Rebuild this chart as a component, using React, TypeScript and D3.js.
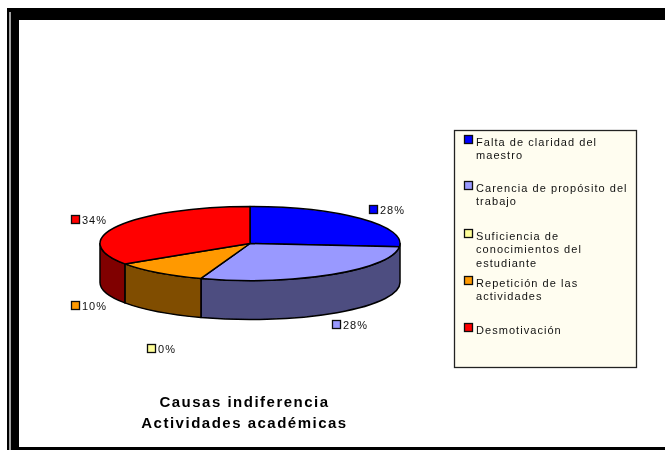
import React from "react";
import * as d3 from "d3";

const categories = ["Falta de claridad del maestro", "Carencia de propósito del trabajo", "Suficiencia de conocimientos del estudiante", "Repetición de las actividades", "Desmotivación"];
const percentLabels = [28, 28, 0, 10, 34];
// Slice sizes as drawn in the picture's tilted projection
const sliceShares = [26.4, 28.9, 0, 10.4, 34.3];
const topColors = ["#0000ff", "#9999ff", "#ffff99", "#ff9900", "#ff0000"];
const sideColors = ["#000080", "#4d4d80", "#808050", "#804d00", "#800000"];
const legendLines = [["Falta de claridad del", "maestro"], ["Carencia de propósito del", "trabajo"], ["Suficiencia de", "conocimientos del", "estudiante"], ["Repetición de las", "actividades"], ["Desmotivación"]];
const legendY = [142, 188, 236, 283, 330];
const labelPos = [[369, 210], [332, 325], [147, 349], [71, 306], [71, 220]];
const titleLines = ["Causas indiferencia", "Actividades académicas"];

const W = 665, H = 450;
const cx = 250, cy = 243.5, rx = 150, ry = 37, depth = 39;
const px = (a: number) => cx + rx * Math.sin(a);
const py = (a: number) => cy - ry * Math.cos(a);
const font = "'Liberation Sans', Arial, sans-serif";

export default function App() {
  const arcs = d3.pie<number>().sort(null)(sliceShares);
  const tops = arcs.filter(a => a.endAngle > a.startAngle).map(a => {
    const large = a.endAngle - a.startAngle > Math.PI ? 1 : 0;
    return { i: a.index, d: `M${cx},${cy}L${px(a.startAngle)},${py(a.startAngle)}A${rx},${ry} 0 ${large} 1 ${px(a.endAngle)},${py(a.endAngle)}Z` };
  });
  const sides = arcs.map(a => {
    const s = a.startAngle - 0.2 <= Math.PI / 2 ? Math.PI / 2 : a.startAngle;
    const e = Math.min(a.endAngle, 1.5 * Math.PI);
    if (e - s < 0.2) return null;
    return { i: a.index, d: `M${px(s)},${py(s)}A${rx},${ry} 0 0 1 ${px(e)},${py(e)}L${px(e)},${py(e) + depth}A${rx},${ry} 0 0 0 ${px(s)},${py(s) + depth}Z` };
  }).filter(Boolean) as { i: number; d: string }[];

  return (
    <svg width={W} height={H} viewBox={`0 0 ${W} ${H}`} style={{ position: "absolute", left: 0, top: 0, background: "#fff" }} fontFamily={font}>
      <defs><filter id="soft" x="-5%" y="-5%" width="110%" height="110%"><feGaussianBlur stdDeviation="0.45" /></filter></defs>
      <g filter="url(#soft)">
        <rect x={7} y={8} width={658} height={12} fill="#000" />
        <rect x={7} y={8} width={12} height={442} fill="#000" />
        <rect x={9} y={12} width={2} height={438} fill="#a0a0a0" />
        <rect x={19} y={447} width={646} height={3} fill="#000" />
        {sides.map(s => <path key={s.i} d={s.d} fill={sideColors[s.i]} stroke="#000" strokeWidth={1.5} strokeLinejoin="round" />)}
        {tops.map(t => <path key={t.i} d={t.d} fill={topColors[t.i]} stroke="#000" strokeWidth={1.5} strokeLinejoin="round" />)}
        {percentLabels.map((v, i) => (
          <g key={i}>
            <rect x={labelPos[i][0] + 0.5} y={labelPos[i][1] - 4.5} width={8} height={8} fill={topColors[i]} stroke="#111" strokeWidth={1.3} />
            <text x={labelPos[i][0] + 11} y={labelPos[i][1] + 4} fontSize={11} letterSpacing={1} fill="#111">{v}%</text>
          </g>
        ))}
        <rect x={454.5} y={130.5} width={182} height={237} fill="#fffdf0" stroke="#222" strokeWidth={1.3} />
        {categories.map((c, i) => (
          <g key={c}>
            <rect x={464.5} y={legendY[i] - 6.5} width={8} height={8} fill={topColors[i]} stroke="#111" strokeWidth={1.3} />
            <text fontSize={11} letterSpacing={1.05} fill="#111" aria-label={c}>
              {legendLines[i].map((l, j) => <tspan key={j} x={476} y={legendY[i] + 4 + j * 13.3}>{l}</tspan>)}
            </text>
          </g>
        ))}
        {titleLines.map((t, i) => (
          <text key={t} x={244.5} y={407 + i * 21} textAnchor="middle" fontSize={15} fontWeight="bold" letterSpacing={1.5} fill="#000">{t}</text>
        ))}
      </g>
    </svg>
  );
}
